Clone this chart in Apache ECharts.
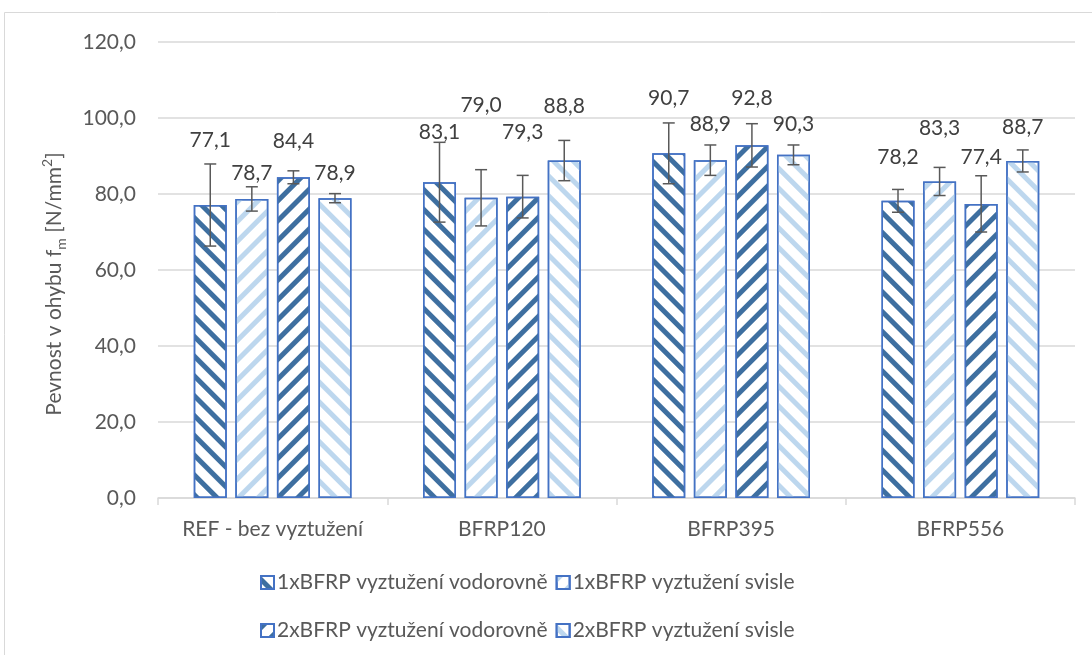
<!DOCTYPE html>
<html>
<head>
<meta charset="utf-8">
<script src="https://cdn.jsdelivr.net/npm/echarts@6/dist/echarts.min.js"></script>
<style>
  html, body { margin: 0; padding: 0; background: #fff; }
  #chart { width: 1092px; height: 655px; }
</style>
</head>
<body>
<div id="chart"></div>
<script>
const categories = ['REF - bez vyztužení', 'BFRP120', 'BFRP395', 'BFRP556'];
const seriesNames = [
  '1xBFRP vyztužení vodorovně',
  '1xBFRP vyztužení svisle',
  '2xBFRP vyztužení vodorovně',
  '2xBFRP vyztužení svisle'
];
// mean values
const values1 = [77.1, 83.1, 90.7, 78.2];
const values2 = [78.7, 79.0, 88.9, 83.3];
const values3 = [84.4, 79.3, 92.8, 77.4];
const values4 = [78.9, 88.8, 90.3, 88.7];
// error bars (+/-)
const errors1 = [10.8, 10.5, 8.0, 3.0];
const errors2 = [3.2, 7.4, 4.0, 3.7];
const errors3 = [1.7, 5.6, 5.7, 7.4];
const errors4 = [1.2, 5.3, 2.6, 2.9];
const yMin = 0, yMax = 120, yStep = 20;

// label lift above bar top (px), labels were moved by hand in the original
const labelLift = [
  [54, 39, 45, 33],
  [15, 82, 25, 43],
  [26, 54, 37, 36],
  [14, 44, 20, 23]
];

const allValues = [values1, values2, values3, values4];
const allErrors = [errors1, errors2, errors3, errors4];

const FONT = 'Lato';
const FS = 21;
const TEXT = '#595959';
const DARK = '#3E6FA0';
const LIGHT = '#BDD7EE';
const BORDER = '#4472C4';
const BAR_W = 33;
const BAR_GAP = 0.26;

const fmt = v => v.toFixed(1).replace('.', ',');

const stripe = (color, dir) => ({
  symbol: 'rect',
  symbolSize: 1,
  dashArrayX: [1, 0],
  dashArrayY: [4.5, 8.5],
  rotation: dir * Math.PI / 4,
  color: color
});
const decals = [stripe(DARK, 1), stripe(LIGHT, -1), stripe(DARK, -1), stripe(LIGHT, 1)];

const chart = echarts.init(document.getElementById('chart'));

const barSeries = allValues.map((vals, s) => ({
  name: seriesNames[s],
  type: 'bar',
  barWidth: BAR_W,
  barGap: (BAR_GAP * 100) + '%',
  data: vals.map((v, i) => ({ value: v, label: { distance: labelLift[s][i] } })),
  itemStyle: { color: '#fff', borderColor: BORDER, borderWidth: 1.5, decal: decals[s] },
  label: {
    show: true,
    position: 'top',
    formatter: p => fmt(p.value),
    fontFamily: FONT,
    fontSize: FS,
    color: '#404040'
  },
  emphasis: { disabled: true }
}));

const errorSeries = allValues.map((vals, s) => ({
  type: 'custom',
  silent: true,
  z: 5,
  data: vals.map((v, i) => [i, v - allErrors[s][i], v + allErrors[s][i]]),
  renderItem: (params, api) => {
    const off = (s - 1.5) * BAR_W * (1 + BAR_GAP);
    const lo = api.coord([api.value(0), api.value(1)]);
    const hi = api.coord([api.value(0), api.value(2)]);
    const x = lo[0] + off;
    const c = 6;
    const st = { stroke: '#595959', lineWidth: 1.5 };
    return {
      type: 'group',
      children: [
        { type: 'line', shape: { x1: x, y1: lo[1], x2: x, y2: hi[1] }, style: st },
        { type: 'line', shape: { x1: x - c, y1: lo[1], x2: x + c, y2: lo[1] }, style: st },
        { type: 'line', shape: { x1: x - c, y1: hi[1], x2: x + c, y2: hi[1] }, style: st }
      ]
    };
  }
}));

const legendBase = {
  left: 255,
  itemWidth: 13,
  itemHeight: 13,
  itemGap: 8,
  icon: 'rect',
  selectedMode: false,
  textStyle: { fontFamily: FONT, fontSize: FS, color: TEXT, padding: [0, 0, 0, -2] }
};

chart.setOption({
  backgroundColor: '#fff',
  animation: false,
  textStyle: { fontFamily: FONT },
  graphic: [{
    type: 'rect',
    shape: { x: 4.5, y: 12.5, width: 1200, height: 700 },
    style: { fill: 'none', stroke: '#D9D9D9', lineWidth: 1 },
    silent: true
  }],
  legend: [
    Object.assign({}, legendBase, { top: 567, data: [seriesNames[0], seriesNames[1]] }),
    Object.assign({}, legendBase, { top: 615, data: [seriesNames[2], seriesNames[3]] })
  ],
  grid: { left: 158, right: 17, top: 42, bottom: 157, containLabel: false },
  xAxis: {
    type: 'category',
    data: categories,
    axisLine: { lineStyle: { color: '#D9D9D9', width: 1.5 } },
    axisTick: { show: true, length: 7, lineStyle: { color: '#D9D9D9', width: 1.5 } },
    axisLabel: { interval: 0, fontFamily: FONT, fontSize: FS, color: TEXT, margin: 21 },
    barCategoryGap: '31%'
  },
  yAxis: {
    type: 'value',
    min: yMin,
    max: yMax,
    interval: yStep,
    name: '{a|Pevnost v ohybu f}{sub|m}{a| [N/mm}{sup|2}{a|]}',
    nameLocation: 'middle',
    nameGap: 90,
    nameTextStyle: {
      padding: [0, 28, 0, 0],
      rich: {
        a: { fontFamily: FONT, fontSize: FS, color: TEXT, lineHeight: 28, verticalAlign: 'middle' },
        sub: { fontFamily: FONT, fontSize: 14, color: TEXT, lineHeight: 28, verticalAlign: 'bottom' },
        sup: { fontFamily: FONT, fontSize: 14, color: TEXT, lineHeight: 28, verticalAlign: 'top' }
      }
    },
    axisLine: { show: false },
    axisTick: { show: false },
    axisLabel: { formatter: v => fmt(v), fontFamily: FONT, fontSize: FS, color: TEXT, margin: 22 },
    splitLine: { lineStyle: { color: '#D9D9D9', width: 1.5 } }
  },
  series: barSeries.concat(errorSeries)
});
</script>
</body>
</html>
